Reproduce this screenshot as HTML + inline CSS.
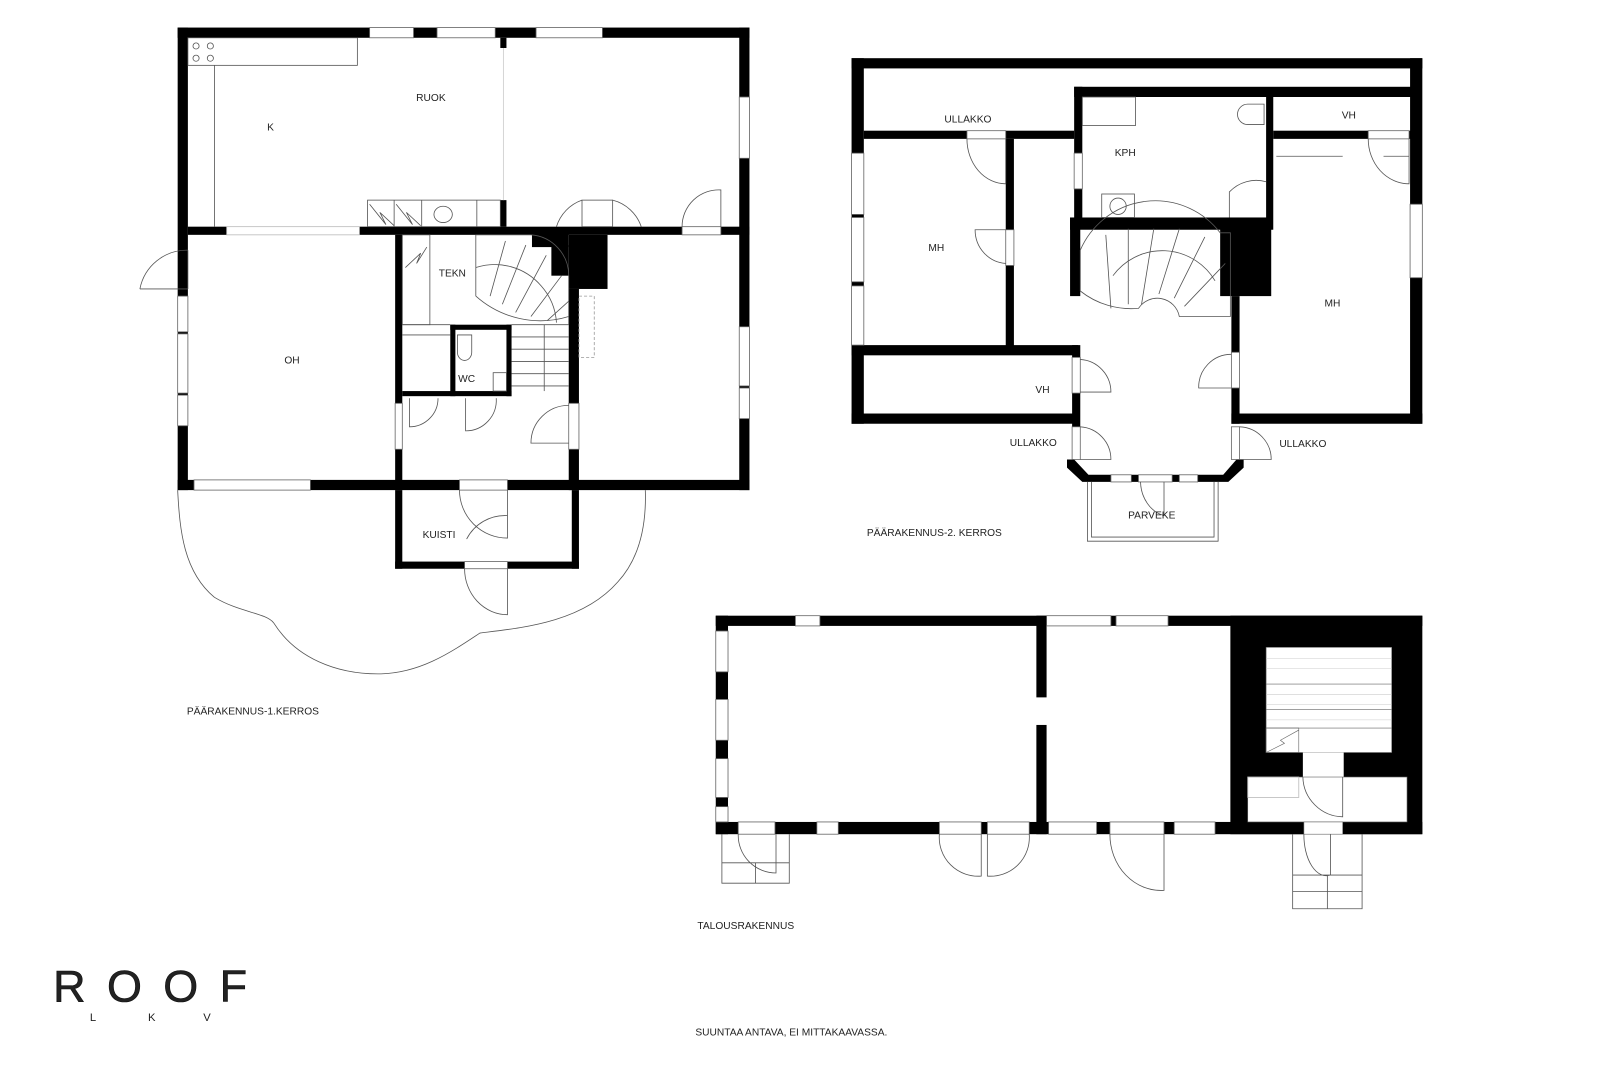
<!DOCTYPE html>
<html><head><meta charset="utf-8"><style>
html,body{margin:0;padding:0;background:#fff;width:1600px;height:1067px;overflow:hidden}
svg{display:block}
text{font-family:"Liberation Sans",sans-serif;fill:#222}
</style></head><body>
<svg width="1600" height="1067" viewBox="0 0 1567 1045" xmlns="http://www.w3.org/2000/svg">
<g fill="#000">
<rect x="174" y="27" width="560" height="10"/>
<rect x="174" y="27" width="10" height="453"/>
<rect x="724" y="27" width="10" height="453"/>
<rect x="174" y="470" width="560" height="10"/>
<rect x="184" y="222" width="38" height="8"/>
<rect x="352" y="222" width="382" height="8"/>
<rect x="490" y="37" width="6" height="10"/>
<rect x="490" y="196" width="6" height="26"/>
<rect x="387" y="230" width="7" height="250"/>
<rect x="557" y="230" width="38" height="53"/>
<rect x="557" y="283" width="10" height="197"/>
<rect x="521" y="228" width="36" height="14"/>
<rect x="540" y="240" width="17" height="30"/>
<rect x="441" y="318" width="60" height="5"/>
<rect x="441" y="318" width="5" height="70"/>
<rect x="496" y="318" width="5" height="70"/>
<rect x="394" y="383" width="107" height="5"/>
<rect x="387" y="480" width="7" height="77"/>
<rect x="560" y="480" width="7" height="77"/>
<rect x="387" y="550" width="180" height="7"/>
<rect x="834" y="57" width="559" height="10"/>
<rect x="834" y="57" width="12" height="358"/>
<rect x="1381" y="57" width="12" height="358"/>
<rect x="846" y="128" width="206" height="8"/>
<rect x="1052" y="85" width="330" height="10"/>
<rect x="1052" y="85" width="8" height="130"/>
<rect x="1240" y="95" width="7" height="130"/>
<rect x="1247" y="128" width="135" height="8"/>
<rect x="985" y="136" width="8" height="204"/>
<rect x="834" y="338" width="222" height="10"/>
<rect x="834" y="405" width="222" height="10"/>
<rect x="1206" y="405" width="187" height="10"/>
<rect x="1048" y="213" width="197" height="12"/>
<rect x="1048" y="213" width="10" height="77"/>
<rect x="1195" y="213" width="50" height="77"/>
<rect x="1050" y="338" width="8" height="80"/>
<rect x="1206" y="290" width="8" height="125"/>
<polygon points="1045,450 1052,450 1066,465 1198,465 1211,450 1218,450 1218,458 1203,472 1060,472 1045,458"/>
<rect x="701" y="603" width="692" height="10"/>
<rect x="701" y="805" width="692" height="12"/>
<rect x="701" y="603" width="12" height="214"/>
<rect x="1015" y="603" width="10" height="80"/>
<rect x="1015" y="710" width="10" height="107"/>
<rect x="1205" y="603" width="188" height="214"/>
</g>
<rect x="1240" y="634" width="123" height="103" fill="#fff" stroke="#666" stroke-width="0.6"/>
<g stroke="#ccc" stroke-width="0.5">
<line x1="1240" y1="645" x2="1363" y2="645"/><line x1="1240" y1="655" x2="1363" y2="655"/><line x1="1240" y1="680" x2="1363" y2="680"/><line x1="1240" y1="690" x2="1363" y2="690"/><line x1="1240" y1="705" x2="1363" y2="705"/></g>
<g stroke="#666" stroke-width="0.6" fill="none">
<line x1="1240" y1="670" x2="1363" y2="670"/><line x1="1240" y1="695" x2="1363" y2="695"/><line x1="1240" y1="713" x2="1363" y2="713"/>
<rect x="1240" y="713" width="32" height="24"/><path d="M1240 737 L1258 728 L1254 725 L1272 715"/></g>
<rect x="1276" y="737" width="40" height="24" fill="#fff"/>
<rect x="1222" y="761" width="156" height="44" fill="#fff" stroke="#666" stroke-width="0.6"/>
<rect x="1277" y="805" width="38" height="12" fill="#fff" stroke="#666" stroke-width="0.6"/>
<g fill="#fff" stroke="#666" stroke-width="0.8">
<rect x="362" y="27" width="43" height="10"/><rect x="428" y="27" width="57" height="10"/><rect x="525" y="27" width="65" height="10"/>
<rect x="724" y="95" width="10" height="60"/><rect x="724" y="320" width="10" height="58"/><rect x="724" y="380" width="10" height="30"/>
<rect x="174" y="290" width="10" height="35"/><rect x="174" y="327" width="10" height="58"/><rect x="174" y="387" width="10" height="30"/>
<rect x="190" y="470" width="114" height="10"/>
<rect x="668" y="222" width="38" height="8"/><rect x="450" y="470" width="47" height="10"/><rect x="455" y="550" width="42" height="7"/>
<rect x="387" y="395" width="7" height="45"/><rect x="557" y="395" width="10" height="45"/>
<rect x="222" y="222" width="130" height="8" stroke="#bbb"/>
<rect x="834" y="150" width="12" height="60"/><rect x="834" y="213" width="12" height="63"/><rect x="834" y="280" width="12" height="58"/>
<rect x="1381" y="200" width="12" height="72"/>
<rect x="947" y="128" width="38" height="8"/><rect x="985" y="225" width="8" height="35"/><rect x="1052" y="150" width="8" height="35"/>
<rect x="1340" y="128" width="40" height="8"/>
<rect x="1050" y="350" width="8" height="35"/><rect x="1206" y="345" width="8" height="35"/>
<rect x="1050" y="418" width="8" height="32"/><rect x="1206" y="418" width="8" height="32"/>
<rect x="1088" y="465" width="20" height="7"/><rect x="1115" y="465" width="33" height="7"/><rect x="1155" y="465" width="18" height="7"/>
<rect x="779" y="603" width="24" height="10"/><rect x="1025" y="603" width="63" height="10"/><rect x="1093" y="603" width="51" height="10"/>
<rect x="701" y="618" width="12" height="40"/><rect x="701" y="685" width="12" height="40"/><rect x="701" y="743" width="12" height="38"/><rect x="701" y="790" width="12" height="15"/>
<rect x="723" y="805" width="36" height="12"/><rect x="800" y="805" width="21" height="12"/><rect x="920" y="805" width="41" height="12"/><rect x="967" y="805" width="41" height="12"/>
<rect x="1027" y="805" width="47" height="12"/><rect x="1087" y="805" width="53" height="12"/><rect x="1150" y="805" width="40" height="12"/>
</g>
<g fill="none" stroke="#555" stroke-width="0.8">
<rect x="184" y="37" width="166" height="27"/><line x1="210" y1="64" x2="210" y2="222"/>
<circle cx="192" cy="45" r="3"/><circle cx="206" cy="45" r="3"/><circle cx="192" cy="57" r="3"/><circle cx="206" cy="57" r="3"/>
<line x1="493" y1="47" x2="493" y2="196" stroke="#ccc"/>
<rect x="360" y="196" width="130" height="26"/><line x1="386" y1="196" x2="386" y2="222"/><line x1="413" y1="196" x2="413" y2="222"/><line x1="467" y1="196" x2="467" y2="222"/>
<path d="M362 200 L378 220 L372 208 L386 221"/><path d="M388 200 L404 220 L398 208 L412 221"/>
<ellipse cx="434" cy="210" rx="9" ry="8"/>
<rect x="570" y="196" width="30" height="26"/><path d="M545 222 A40 40 0 0 1 570 196 M600 196 A40 40 0 0 1 628 222"/>
<path d="M668 222 A36 36 0 0 1 706 186 L706 222"/>
<path d="M137 283 L184 283 M137 283 A47 47 0 0 1 184 245 M184 245 L184 283" />
<rect x="394" y="230" width="27" height="88"/><path d="M397 262 L412 248 L408 258 L418 242"/>
<line x1="394" y1="318" x2="441" y2="318"/><line x1="394" y1="328" x2="441" y2="328"/>
<path d="M466 230 L466 290 M466 290 A95 95 0 0 0 557 310 M466 230 L520 230 A40 40 0 0 1 557 270 L557 318"/>
<path d="M480 290 L495 236 M492 298 L515 240 M505 306 L535 250 M520 310 L550 270 M536 314 L557 295"/>
<path d="M466 262 A60 60 0 0 1 530 280 A60 60 0 0 1 545 316"/>
<line x1="501" y1="318" x2="557" y2="318"/>
<line x1="501" y1="330" x2="557" y2="330"/><line x1="501" y1="342" x2="557" y2="342"/><line x1="501" y1="354" x2="557" y2="354"/><line x1="501" y1="366" x2="557" y2="366"/><line x1="501" y1="378" x2="557" y2="378"/>
<line x1="533" y1="318" x2="533" y2="383"/>
<rect x="567" y="290" width="15" height="60" stroke-dasharray="3,2" stroke="#999"/>
<path d="M448 328 L448 345 A7 8 0 0 0 462 345 L462 328 Z"/><rect x="483" y="365" width="13" height="18"/>
<path d="M401 390 L401 418 A28 28 0 0 0 429 390 M456 390 L456 422 A30 30 0 0 0 486 390"/>
<path d="M557 397 A37 37 0 0 0 520 434 L557 434"/>
<path d="M450 480 A47 47 0 0 0 497 527 L497 480 M497 505 A42 42 0 0 0 457 528"/>
<path d="M455 557 A42 45 0 0 0 497 602 L497 557"/>
<path d="M174 480 C176 520 180 560 210 585 C235 600 260 600 268 610 C290 645 330 660 370 660 C410 660 440 640 470 620 C510 615 570 610 605 570 C628 545 633 510 632 480"/>
<path d="M947 136 A38 44 0 0 0 985 180 L985 136"/>
<path d="M985 225 L955 225 A32 33 0 0 0 985 258"/>
<rect x="1060" y="95" width="52" height="28"/><path d="M1222 102 A10 10 0 0 0 1222 122 L1238 122 L1238 102 Z"/>
<rect x="1079" y="190" width="32" height="23"/><circle cx="1095" cy="202" r="8"/>
<path d="M1204 213 L1204 188 A36 36 0 0 1 1240 178"/>
<path d="M1340 136 A40 44 0 0 0 1380 180 L1380 136 M1250 153 L1315 153 M1355 153 L1380 153"/>
<path d="M1058 245 A80 80 0 0 1 1195 228 L1205 228 L1205 310 L1155 310 A22 22 0 0 0 1115 302 A80 80 0 0 1 1058 285 Z"/>
<path d="M1088 302 L1083 230 M1105 298 L1105 224 M1118 298 L1130 224 M1135 288 L1155 224 M1150 292 L1180 232 M1160 300 L1200 258 M1090 270 A60 60 0 0 1 1190 275"/>
<path d="M1058 352 A32 32 0 0 1 1088 384 L1058 384"/>
<path d="M1206 347 A32 32 0 0 0 1174 380 L1206 380"/>
<path d="M1058 418 A32 32 0 0 1 1088 450 L1058 450"/>
<path d="M1214 418 A32 32 0 0 1 1245 450 L1214 450"/>
<path d="M1065 472 L1065 530 L1193 530 L1193 472 M1069 472 L1069 526 L1189 526 L1189 472"/>
<path d="M1117 472 A30 35 0 0 0 1140 505 L1140 472"/>
<path d="M723 817 A37 37 0 0 0 760 855 L760 817 M707 817 L707 865 L773 865 L773 817 M707 845 L773 845 M740 845 L740 865"/>
<path d="M920 817 A38 38 0 0 0 961 858 L961 817 M1008 817 A38 38 0 0 1 967 858 L967 817"/>
<path d="M1087 817 A50 55 0 0 0 1140 872 L1140 817"/>
<path d="M1277 817 A22 40 0 0 0 1303 857 L1303 817 M1266 817 L1266 890 L1334 890 L1334 817 M1266 857 L1334 857 M1266 873 L1334 873 M1300 857 L1300 890"/>
<path d="M1276 761 A40 40 0 0 0 1315 800 L1315 761"/>
<rect x="1222" y="761" width="50" height="20" stroke="#bbb"/>
</g>
<g font-size="10" text-anchor="middle">
<text x="265" y="128">K</text><text x="422" y="99">RUOK</text><text x="443" y="271">TEKN</text><text x="286" y="356">OH</text>
<text x="457" y="374">WC</text><text x="430" y="527">KUISTI</text>
<text x="948" y="120">ULLAKKO</text><text x="1102" y="153">KPH</text><text x="1321" y="116">VH</text>
<text x="917" y="246">MH</text><text x="1305" y="300">MH</text><text x="1021" y="385">VH</text>
<text x="1012" y="437">ULLAKKO</text><text x="1276" y="438">ULLAKKO</text><text x="1128" y="508">PARVEKE</text>
</g>
<g font-size="10">
<text x="183" y="700">PÄÄRAKENNUS-1.KERROS</text>
<text x="849" y="525">PÄÄRAKENNUS-2. KERROS</text>
<text x="683" y="910">TALOUSRAKENNUS</text>
<text x="681" y="1014">SUUNTAA ANTAVA, EI MITTAKAAVASSA.</text>
</g>
<text x="52" y="981" font-size="44" textLength="190" lengthAdjust="spacing" fill="#111" stroke="#111" stroke-width="0.6">ROOF</text>
<g font-size="11"><text x="88" y="1000">L</text><text x="145" y="1000">K</text><text x="199" y="1000">V</text></g>
</svg>
</body></html>
